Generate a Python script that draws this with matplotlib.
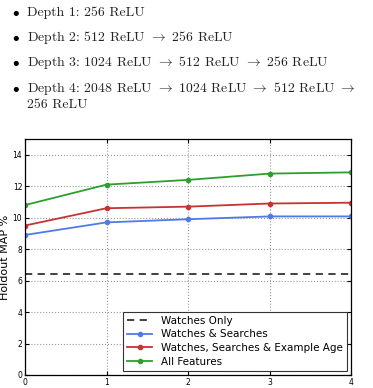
import matplotlib
matplotlib.use('Agg')
import matplotlib.pyplot as plt

# depth on x, holdout MAP % on y
depths = [0, 1, 2, 3, 4]
watches_only = 6.4
watches_searches = [8.9, 9.7, 9.9, 10.08, 10.08]
watches_searches_age = [9.5, 10.6, 10.7, 10.9, 10.95]
all_features = [10.8, 12.1, 12.4, 12.8, 12.88]

bullets = [
    'Depth 1: 256 ReLU',
    r'Depth 2: 512 ReLU $\rightarrow$ 256 ReLU',
    r'Depth 3: 1024 ReLU $\rightarrow$ 512 ReLU $\rightarrow$ 256 ReLU',
    r'Depth 4: 2048 ReLU $\rightarrow$ 1024 ReLU $\rightarrow$ 512 ReLU $\rightarrow$',
    '256 ReLU',
]

plt.rcParams['mathtext.fontset'] = 'cm'

fig = plt.figure(figsize=(3.73, 3.88), dpi=100)

# bullet list above the chart (baselines in pixels)
W, H = 373, 388
ys = [16, 41, 66, 92, 108]
for i, (txt, y) in enumerate(zip(bullets, ys)):
    if i < 4:
        fig.text(12 / W, 1 - y / H, r'$\bullet$', fontsize=9.5, va='baseline',
                 ha='left', family=['cmr10', 'DejaVu Serif'])
    fig.text(27 / W, 1 - y / H, txt, fontsize=9.9, va='baseline', ha='left',
             family=['cmr10', 'DejaVu Serif'], color='#222222')

ax = fig.add_axes([25 / W, 1 - 375 / H, 326 / W, 236 / H])

ax.axhline(watches_only, color='#333333', ls='--', lw=1.3, dashes=(4, 3),
           label='Watches Only')
ax.plot(depths, watches_searches, color='#4f7be6', marker='o', ms=3, lw=1.3,
        label='Watches & Searches')
ax.plot(depths, watches_searches_age, color='#c83232', marker='o', ms=3, lw=1.3,
        label='Watches, Searches & Example Age')
ax.plot(depths, all_features, color='#2e9e2e', marker='o', ms=3, lw=1.3,
        label='All Features')

ax.set_xlim(0, 4)
ax.set_ylim(0, 15)
ax.set_xticks(depths)
ax.set_yticks(range(0, 15, 2))
ax.tick_params(direction='in', labelsize=5.5, length=3, top=True, right=True, pad=2)
ax.grid(True, ls=':', color='#999999', lw=0.8)
ax.set_ylabel('Holdout MAP %', fontsize=8, labelpad=2)
for s in ax.spines.values():
    s.set_linewidth(0.9)

leg = ax.legend(loc='lower right', fontsize=7.5, fancybox=False, framealpha=1,
                edgecolor='#333333', borderaxespad=0.4, handlelength=2.4,
                labelspacing=0.35, borderpad=0.4)
leg.get_frame().set_linewidth(0.8)

fig.savefig('out.png', dpi=100)
